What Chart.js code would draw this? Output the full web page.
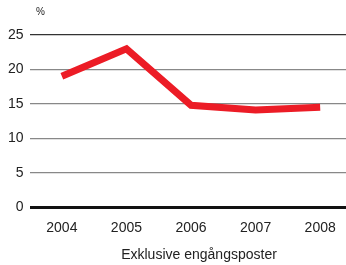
<!DOCTYPE html>
<html lang="sv">
<head>
  <meta charset="UTF-8">
  <title>Exklusive engångsposter</title>
  <script src="https://cdn.jsdelivr.net/npm/chart.js"></script>
  <style>
    html, body { margin: 0; padding: 0; background: #fff; }
    #wrap { width: 346px; height: 265px; position: relative; }
  </style>
</head>
<body>
<div id="wrap"><canvas id="chart"></canvas></div>
<script>
// data
const years = [2004, 2005, 2006, 2007, 2008];
const values = [19.0, 23.0, 14.8, 14.1, 14.5];
const yTicks = [0, 5, 10, 15, 20, 25];
const unitLabel = '%';
const xTitle = 'Exklusive engångsposter';

const FONT = "'Liberation Sans Narrow', 'Liberation Sans', Arial, sans-serif";

// "%" above the y axis and the note under the years
const textPlugin = {
  id: 'texts',
  afterDraw(c) {
    const ctx = c.ctx;
    ctx.save();
    ctx.fillStyle = '#222';
    ctx.textBaseline = 'middle';
    ctx.font = '10px ' + FONT;
    ctx.textAlign = 'left';
    ctx.fillText(unitLabel, 36, 12);
    ctx.font = '14px ' + FONT;
    ctx.textAlign = 'center';
    ctx.fillText(xTitle, 199, 255);
    ctx.restore();
  }
};

new Chart(document.getElementById('chart'), {
  type: 'line',
  data: {
    datasets: [{
      data: years.map((y, i) => ({ x: y, y: values[i] })),
      borderColor: '#ec1c26',
      borderWidth: 7,
      pointRadius: 0,
      tension: 0,
      borderCapStyle: 'butt',
      borderJoinStyle: 'miter'
    }]
  },
  options: {
    responsive: true,
    maintainAspectRatio: false,
    animation: false,
    layout: { padding: { top: 35, right: 0, left: 2, bottom: 23 } },
    plugins: { legend: { display: false }, tooltip: { enabled: false } },
    scales: {
      x: {
        type: 'linear',
        min: 2003.5,
        max: 2008.4,
        afterBuildTicks: s => { s.ticks = years.map(v => ({ value: v })); },
        grid: { display: false },
        border: { display: false },
        ticks: { color: '#222', font: { family: FONT, size: 14 }, padding: 5, callback: v => String(v) }
      },
      y: {
        min: 0,
        max: 25,
        afterBuildTicks: s => { s.ticks = yTicks.map(v => ({ value: v })); },
        border: { display: false },
        grid: {
          drawTicks: false,
          color: ctx => ctx.tick.value === 0 ? '#111' : (ctx.tick.value === 25 ? '#333' : '#888'),
          lineWidth: ctx => ctx.tick.value === 0 ? 3 : 1.2
        },
        ticks: { color: '#222', font: { family: FONT, size: 14 }, padding: 6 }
      }
    }
  },
  plugins: [textPlugin]
});
</script>
</body>
</html>
